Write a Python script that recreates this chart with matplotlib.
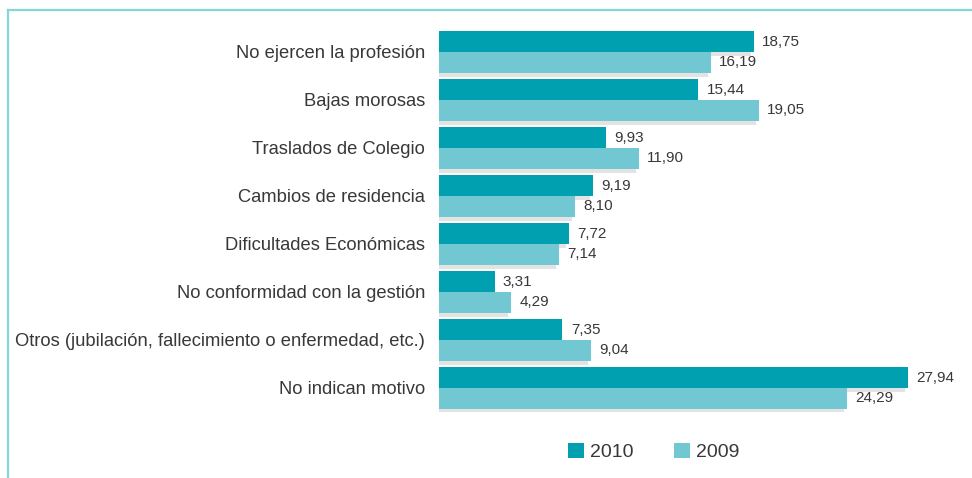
import matplotlib
matplotlib.use("Agg")
import matplotlib.pyplot as plt
import matplotlib.patheffects as pe
from matplotlib.patches import Patch
from matplotlib.lines import Line2D

categories = [
    "No ejercen la profesión",
    "Bajas morosas",
    "Traslados de Colegio",
    "Cambios de residencia",
    "Dificultades Económicas",
    "No conformidad con la gestión",
    "Otros (jubilación, fallecimiento o enfermedad, etc.)",
    "No indican motivo",
]
values_2010 = [18.75, 15.44, 9.93, 9.19, 7.72, 3.31, 7.35, 27.94]
values_2009 = [16.19, 19.05, 11.90, 8.10, 7.14, 4.29, 9.04, 24.29]
series_names = ["2010", "2009"]

C2010 = "#00a0b0"
C2009 = "#72c8d2"
TXT = "#383838"
FONT = "Liberation Sans"

W, H = 972, 478
fig = plt.figure(figsize=(W / 100, H / 100), dpi=100)
plt.rcParams["font.family"] = [FONT, "DejaVu Sans"]

# frame lines (left and top)
fig.add_artist(Line2D([8 / W, 8 / W], [0, 1 - 10 / H], transform=fig.transFigure,
                      color="#86d6d8", lw=1.6))
fig.add_artist(Line2D([8 / W, 1], [1 - 10 / H, 1 - 10 / H], transform=fig.transFigure,
                      color="#86d6d8", lw=1.6))

left_px, top_px, bottom_px = 439, 28, 412
xmax = 30
width_px = xmax * 16.8
ax = fig.add_axes([left_px / W, 1 - bottom_px / H, width_px / W, (bottom_px - top_px) / H])

n = len(categories)
ypos = list(range(n))
bh = 0.4375
shadow = [pe.SimplePatchShadow(offset=(-2.2, -2.9), shadow_rgbFace="#e3e3e3", alpha=1.0),
          pe.Normal()]

b1 = ax.barh([y - bh / 2 for y in ypos], values_2010, height=bh, color=C2010,
             linewidth=0, zorder=3)
b2 = ax.barh([y + bh / 2 for y in ypos], values_2009, height=bh, color=C2009,
             linewidth=0, zorder=3)
for b in list(b1) + list(b2):
    b.set_path_effects(shadow)

def fmt(v):
    return f"{v:.2f}".replace(".", ",")

for y, v in zip(ypos, values_2010):
    ax.annotate(fmt(v), (v, y - bh / 2), xytext=(6, 0), textcoords="offset points",
                va="center", ha="left", fontsize=11, color=TXT)
for y, v in zip(ypos, values_2009):
    ax.annotate(fmt(v), (v, y + bh / 2), xytext=(6, 0), textcoords="offset points",
                va="center", ha="left", fontsize=11, color=TXT)

ax.set_xlim(0, xmax)
ax.set_ylim(n - 0.5, -0.5)
ax.set_yticks(ypos)
ax.set_yticklabels(categories, fontsize=13.25, color=TXT)
ax.tick_params(axis="y", length=0, pad=10)
ax.set_xticks([])
for s in ax.spines.values():
    s.set_visible(False)

handles = [Patch(facecolor=C2010, edgecolor="none"), Patch(facecolor=C2009, edgecolor="none")]
leg = fig.legend(handles, series_names, loc="center", bbox_to_anchor=(653.5 / W, 1 - 452 / H),
                 ncol=2, frameon=False, fontsize=14, handlelength=0.82, handleheight=0.82,
                 handletextpad=0.31, columnspacing=2.06, labelcolor=TXT)

fig.savefig("out.png", dpi=100)
